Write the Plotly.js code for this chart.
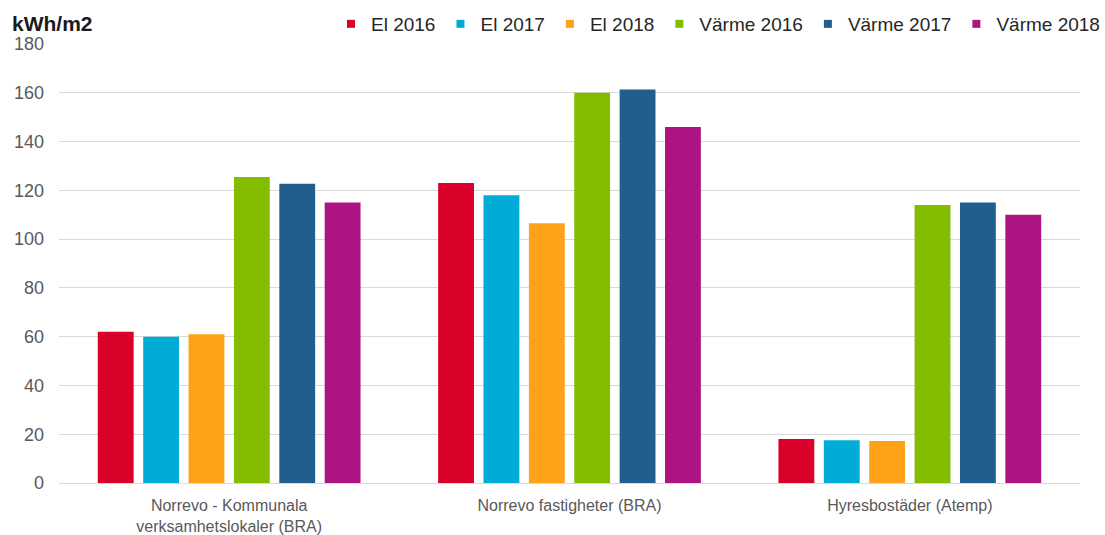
<!DOCTYPE html>
<html>
<head>
<meta charset="utf-8">
<script src="https://cdn.plot.ly/plotly-3.0.1.min.js"></script>
<style>
  body { margin: 0; background: #fff; }
  #plot { width: 1105px; height: 535px; }
</style>
</head>
<body>
<div id="plot"></div>
<script>
// categories and series
let categories = [
    "Norrevo - Kommunala<br>verksamhetslokaler (BRA)",
    "Norrevo fastigheter (BRA)",
    "Hyresbostäder (Atemp)"
];
let seriesNames = ["El 2016", "El 2017", "El 2018", "Värme 2016", "Värme 2017", "Värme 2018"];
let el2016 = [62, 123, 18];
let el2017 = [60, 118, 17.5];
let el2018 = [61, 106.5, 17.2];
let varme2016 = [125.5, 160, 114];
let varme2017 = [122.7, 161.3, 115];
let varme2018 = [115, 146, 110];
let yTicks = [0, 20, 40, 60, 80, 100, 120, 140, 160, 180];

let colors = ["#d9002a", "#00acd6", "#ffa21a", "#84bc00", "#215e8e", "#ad1482"];
let values = [el2016, el2017, el2018, varme2016, varme2017, varme2018];

let traces = values.map((v, i) => ({
    type: 'bar',
    x: categories,
    y: v,
    name: seriesNames[i],
    showlegend: false,
    marker: { color: colors[i] }
}));

// legend entries with small square keys, as in the original
let legendTraces = seriesNames.map((name, i) => ({
    type: 'scatter',
    mode: 'markers',
    x: [categories[0]],
    y: [null],
    name: name,
    marker: { symbol: 'square', size: 8, color: colors[i] },
    hoverinfo: 'skip'
}));

let layout = {
    width: 1105,
    height: 535,
    margin: { l: 59, r: 25, t: 44, b: 52 },
    paper_bgcolor: '#fff',
    plot_bgcolor: '#fff',
    font: { family: 'Liberation Sans, Arial, sans-serif', color: '#404040' },
    barmode: 'group',
    bargap: 0.2,
    bargroupgap: 0.21,
    showlegend: true,
    legend: {
        orientation: 'h',
        xref: 'container', yref: 'container',
        x: 1, xanchor: 'right',
        y: 1 - 5 / 535, yanchor: 'top',
        font: { size: 19, color: '#262626' },
        itemwidth: 30,
        traceorder: 'normal'
    },
    xaxis: {
        tickfont: { size: 16, color: '#595959' },
        showline: false,
        ticks: '',
        ticklabelstandoff: 11,
        automargin: false
    },
    yaxis: {
        range: [0, 180],
        tickvals: yTicks,
        ticktext: yTicks.map(String),
        tickfont: { size: 18, color: '#595959' },
        showgrid: true,
        gridcolor: '#d9d9d9',
        gridwidth: 1,
        zeroline: true,
        zerolinecolor: '#d9d9d9',
        ticklabelstandoff: 14,
        automargin: false
    },
    annotations: [{
        text: '<b>kWh/m2</b>',
        xref: 'paper', yref: 'paper',
        x: -0.048, y: 1.016,
        xanchor: 'left', yanchor: 'bottom',
        showarrow: false,
        font: { size: 21, color: '#1a1a1a' }
    }]
};

Plotly.newPlot("plot", traces.concat(legendTraces), layout, { displayModeBar: false });
</script>
</body>
</html>
